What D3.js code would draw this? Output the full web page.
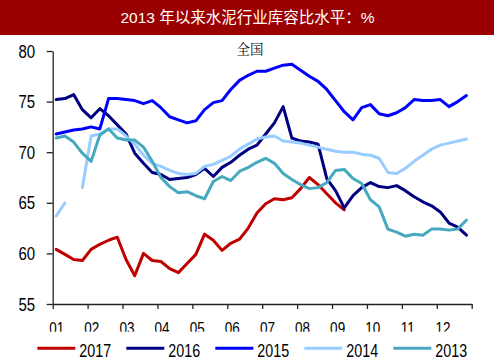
<!DOCTYPE html>
<html>
<head>
<meta charset="utf-8">
<script src="https://cdn.jsdelivr.net/npm/d3@7"></script>
<style>
  body { margin: 0; background: #fff; }
  svg { display: block; }
</style>
</head>
<body>
<div id="chart"></div>
<script>
"use strict"

// chart values, one point every quarter month
const monthLabels = ["01", "02", "03", "04", "05", "06", "07", "08", "09", "10", "11", "12"];
const seriesNames = ["2017", "2016", "2015", "2014", "2013"];
const seriesColors = ["#c00000", "#000080", "#0000ff", "#99ccff", "#47a9c0"];

const values2017 = [60.4, 59.9, 59.4, 59.3, 60.4, 60.9, 61.3, 61.6, 59.4, 57.8, 60.0, 59.3,
    59.2, 58.5, 58.1, 59.0, 59.9, 61.9, 61.3, 60.3, 61.0, 61.4, 62.5, 64.0,
    64.9, 65.4, 65.3, 65.5, 66.4, 67.5, 66.8, 65.9, 65.0, 64.3];
const values2016 = [75.2, 75.3, 75.7, 74.2, 73.4, 74.3, 73.6, 72.7, 71.8, 69.9, 68.9, 68.0,
    67.8, 67.3, 67.4, 67.5, 67.8, 68.4, 67.6, 68.5, 69.0, 69.7, 70.3, 70.7,
    71.8, 72.9, 74.5, 71.4, 71.1, 71.0, 70.8, 67.4, 66.2, 64.5, 65.7, 66.5,
    67.0, 66.6, 66.5, 66.7, 66.2, 65.6, 65.1, 64.7, 64.1, 63.0, 62.6, 61.8];
const values2015 = [71.8, 72.0, 72.2, 72.3, 72.5, 72.3, 75.3, 75.3, 75.2, 75.1, 74.8, 75.1,
    74.4, 73.5, 73.2, 72.9, 73.1, 74.2, 74.9, 75.1, 76.2, 77.1, 77.6, 78.0,
    78.0, 78.3, 78.6, 78.7, 78.1, 77.5, 77.0, 76.2, 75.1, 74.0, 73.2, 74.4,
    74.7, 73.8, 73.6, 73.9, 74.4, 75.2, 75.1, 75.1, 75.2, 74.5, 75.0, 75.6];
const values2014 = [63.7, 65.0, null, 66.5, 71.6, 71.8, 72.3, 72.3, 71.6, 70.8, 69.7, 68.9,
    68.6, 68.2, 67.9, 67.8, 67.9, 68.6, 68.8, 69.2, 69.6, 70.3, 70.8, 71.3,
    71.5, 71.6, 71.1, 71.0, 70.9, 70.7, 70.5, 70.3, 70.1, 70.0, 70.0, 69.8,
    69.7, 69.4, 68.0, 67.9, 68.4, 69.1, 69.7, 70.3, 70.7, 70.9, 71.1, 71.3];
const values2013 = [71.4, 71.6, 71.0, 69.9, 69.1, 71.7, 72.3, 71.4, 71.2, 71.2, 70.5, 69.1,
    67.5, 66.6, 66.0, 66.1, 65.7, 65.4, 67.1, 67.6, 67.2, 68.1, 68.5, 69.0,
    69.4, 68.9, 67.9, 67.3, 66.8, 66.4, 66.5, 67.0, 68.2, 68.3, 67.4, 66.9,
    65.3, 64.6, 62.4, 62.1, 61.7, 61.9, 61.8, 62.4, 62.4, 62.3, 62.4, 63.3];

const seriesValues = [values2017, values2016, values2015, values2014, values2013];
const yTicks = [55, 60, 65, 70, 75, 80];

const titleText = "2013 年以来水泥行业库容比水平：%";
const regionText = "全国";

const width = 494;
const height = 362;
const firstStep = 0.1;
const stepSize = 0.25;
const textStretch = "scale(1,1.28)";
const latinFont = "'Liberation Sans', Arial, sans-serif";
const cjkFont = "'Liberation Sans', 'Noto Sans CJK SC', sans-serif";

const svg = d3.select("#chart").append("svg")
    .attr("width", width)
    .attr("height", height);

const x = d3.scaleLinear().domain([0, 12]).range([52.7, 471.7]);
const y = d3.scaleLinear().domain([55, 80]).range([304, 51]);

// title bar
svg.append("rect")
    .attr("x", 0).attr("y", 0)
    .attr("width", width).attr("height", 35)
    .attr("fill", "#9b0000");

svg.append("text")
    .attr("x", 247.5).attr("y", 23)
    .attr("text-anchor", "middle")
    .attr("font-family", cjkFont)
    .attr("font-size", 15.5)
    .attr("fill", "#fff")
    .text(titleText);

svg.append("text")
    .attr("x", 250).attr("y", 54)
    .attr("text-anchor", "middle")
    .attr("font-family", "'Noto Serif CJK SC', 'Noto Sans CJK SC', serif")
    .attr("font-size", 13.5)
    .attr("fill", "#111")
    .text(regionText);

// axes
const yAxis = svg.append("g")
    .attr("transform", `translate(${x(0)},0)`)
    .call(d3.axisLeft(y).tickValues(yTicks).tickSize(6).tickSizeOuter(0).tickPadding(11.5));

yAxis.selectAll("text")
    .attr("font-family", latinFont)
    .attr("font-size", 15)
    .attr("fill", "#000")
    .attr("transform", textStretch);

const xAxis = svg.append("g")
    .attr("transform", `translate(0,${y(55)})`)
    .call(d3.axisBottom(x)
        .tickValues(d3.range(0, 13))
        .tickSize(5)
        .tickSizeOuter(0)
        .tickFormat(d => d < 12 ? monthLabels[d] : ""));

xAxis.selectAll("text")
    .attr("y", 0)
    .attr("dy", null)
    .attr("font-family", latinFont)
    .attr("font-size", 13.5)
    .attr("fill", "#000")
    .attr("transform", d => `translate(${3.5 + d * 0.2},30) ${textStretch}`);

svg.selectAll(".domain, .tick line")
    .attr("stroke", "#222")
    .attr("stroke-width", 1.3);

// the reference cuts the month labels off at the bottom
svg.append("rect")
    .attr("x", 0).attr("y", 331.7)
    .attr("width", width).attr("height", 9)
    .attr("fill", "#fff");

// series lines
const line = d3.line()
    .defined(d => d != null)
    .x((d, i) => x(firstStep + i * stepSize))
    .y(d => y(d));

svg.append("g")
    .selectAll("path")
    .data(seriesValues)
    .enter()
    .append("path")
        .attr("d", d => line(d))
        .attr("fill", "none")
        .attr("stroke", (_, i) => seriesColors[i])
        .attr("stroke-width", 3)
        .attr("stroke-linejoin", "round")
        .attr("stroke-linecap", "round");

// legend
const legend = svg.append("g")
    .selectAll("g")
    .data(seriesNames)
    .enter()
    .append("g")
        .attr("transform", (_, i) => `translate(${37.3 + i * 89},348.3)`);

legend.append("line")
    .attr("x1", 0).attr("x2", 38)
    .attr("y1", 0).attr("y2", 0)
    .attr("stroke", (_, i) => seriesColors[i])
    .attr("stroke-width", 3);

legend.append("text")
    .attr("transform", `translate(42,8.4) ${textStretch}`)
    .attr("font-family", latinFont)
    .attr("font-size", 14.3)
    .attr("fill", "#000")
    .text(d => d);
</script>
</body>
</html>
